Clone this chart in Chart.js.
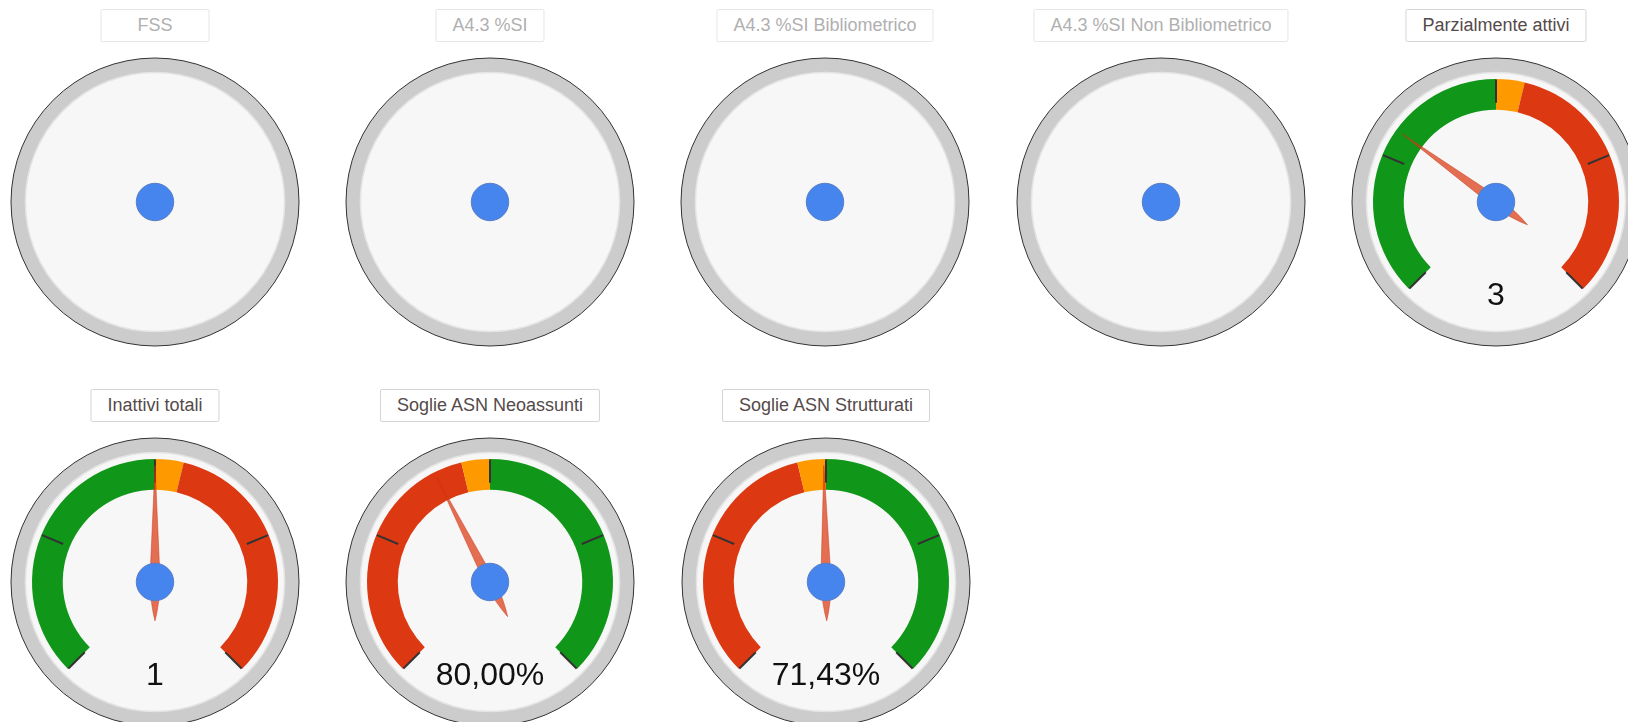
<!DOCTYPE html>
<html>
<head>
<meta charset="utf-8">
<script src="https://cdn.jsdelivr.net/npm/chart.js@4.4.1/dist/chart.umd.min.js"></script>
<style>
  html, body { margin: 0; padding: 0; background: #fff; overflow: hidden; }
  body { width: 1628px; height: 722px; position: relative; font-family: "Liberation Sans", Arial, sans-serif; }
  .gbox { position: absolute; width: 300px; height: 300px; }
  .gtitle {
    position: absolute; transform: translateX(-50%); height: 33px; line-height: 31px;
    box-sizing: border-box; min-width: 109px; padding: 0 16px; white-space: nowrap; text-align: center;
    font-size: 18px; color: #554a4a; background: #fff; border: 1px solid #d4d4d4; border-radius: 2px;
  }
  .gtitle.off { color: #b0b0b0; border-color: #e6e6e6; }
</style>
</head>
<body>
<script>
// gauge titles and readings
const titles = ['FSS', 'A4.3 %SI', 'A4.3 %SI Bibliometrico', 'A4.3 %SI Non Bibliometrico',
  'Parzialmente attivi', 'Inattivi totali', 'Soglie ASN Neoassunti', 'Soglie ASN Strutturati'];
const values = [null, null, null, null, 3, 1, 80, 71.43];
const valueLabels = ['', '', '', '', '3', '1', '80,00%', '71,43%'];
const scaleMin = [0, 0, 0, 0, 0, 0, 0, 0];
const scaleMax = [null, null, null, null, 10, 2, 200, 144];

// colour bands (same meaning as greenFrom/greenTo etc.)
const greenFrom = [null, null, null, null, 0, 0, 100, 72];
const greenTo = [null, null, null, null, 5, 1, 200, 144];
const yellowFrom = [null, null, null, null, 5, 1, 90, 64.8];
const yellowTo = [null, null, null, null, 5.5, 1.1, 100, 72];
const redFrom = [null, null, null, null, 5.5, 1.1, 0, 0];
const redTo = [null, null, null, null, 10, 2, 90, 64.8];
const majorTicks = 5;

// page placement of each gauge centre
const centerX = [155, 490, 825, 1161, 1496, 155, 490, 826];
const centerY = [202, 202, 202, 202, 202, 582, 582, 582];

const GREEN = '#109618', YELLOW = '#ff9900', RED = '#dc3912';

function buildSegments(i) {
  if (values[i] === null) return [];
  const bands = [
    { from: greenFrom[i], to: greenTo[i], color: GREEN },
    { from: yellowFrom[i], to: yellowTo[i], color: YELLOW },
    { from: redFrom[i], to: redTo[i], color: RED }
  ].sort((a, b) => a.from - b.from);
  const span = scaleMax[i] - scaleMin[i];
  const segs = bands.map(b => ({ size: b.to - b.from, color: b.color }));
  // bottom quarter of the dial stays empty (270 degree sweep)
  segs.push({ size: span / 3, color: 'rgba(0,0,0,0)' });
  return segs;
}

const gaugePlugin = {
  id: 'gauge',
  beforeDatasetsDraw(chart, args, opts) {
    const { ctx, chartArea } = chart;
    const cx = (chartArea.left + chartArea.right) / 2;
    const cy = (chartArea.top + chartArea.bottom) / 2;
    const R = Math.min(chartArea.width, chartArea.height) / 2 * 0.96;
    ctx.save();
    ctx.beginPath();
    ctx.arc(cx, cy, R, 0, Math.PI * 2);
    ctx.fillStyle = '#cccccc';
    ctx.fill();
    ctx.lineWidth = 1;
    ctx.strokeStyle = '#333';
    ctx.stroke();
    ctx.beginPath();
    ctx.arc(cx, cy, R * 0.9, 0, Math.PI * 2);
    ctx.fillStyle = '#f7f7f7';
    ctx.fill();
    ctx.lineWidth = 1.5;
    ctx.strokeStyle = '#e4e4e4';
    ctx.stroke();
    ctx.restore();
  },
  afterDatasetsDraw(chart, args, opts) {
    const i = opts.index;
    const { ctx, chartArea } = chart;
    const cx = (chartArea.left + chartArea.right) / 2;
    const cy = (chartArea.top + chartArea.bottom) / 2;
    const R = Math.min(chartArea.width, chartArea.height) / 2 * 0.96;
    const toRad = frac => (-135 + 270 * frac - 90) * Math.PI / 180;
    ctx.save();
    if (values[i] !== null) {
      // major ticks
      ctx.strokeStyle = '#333';
      ctx.lineWidth = 2;
      for (let k = 0; k < majorTicks; k++) {
        const a = toRad(k / (majorTicks - 1));
        ctx.beginPath();
        ctx.moveTo(cx + Math.cos(a) * R * 0.69, cy + Math.sin(a) * R * 0.69);
        ctx.lineTo(cx + Math.cos(a) * R * 0.85, cy + Math.sin(a) * R * 0.85);
        ctx.stroke();
      }
      // value label
      ctx.fillStyle = '#111';
      ctx.font = '32px "Liberation Sans", Arial, sans-serif';
      ctx.textAlign = 'center';
      ctx.textBaseline = 'middle';
      ctx.fillText(valueLabels[i], cx, cy + R * 0.655);
      // needle
      const frac = (values[i] - scaleMin[i]) / (scaleMax[i] - scaleMin[i]);
      const a = toRad(frac);
      const ux = Math.cos(a), uy = Math.sin(a);
      const px = -uy, py = ux;
      const w = R * 0.036;
      const tip = R * 0.81, tail = R * 0.27;
      ctx.beginPath();
      ctx.moveTo(cx + ux * tip, cy + uy * tip);
      ctx.lineTo(cx + px * w, cy + py * w);
      ctx.quadraticCurveTo(cx - ux * tail * 0.6 + px * w * 0.8, cy - uy * tail * 0.6 + py * w * 0.8,
        cx - ux * tail, cy - uy * tail);
      ctx.quadraticCurveTo(cx - ux * tail * 0.6 - px * w * 0.8, cy - uy * tail * 0.6 - py * w * 0.8,
        cx - px * w, cy - py * w);
      ctx.closePath();
      ctx.fillStyle = 'rgba(220,57,18,0.72)';
      ctx.fill();
      ctx.lineWidth = 0.6;
      ctx.strokeStyle = 'rgba(198,51,16,0.8)';
      ctx.stroke();
    }
    // centre dot
    ctx.beginPath();
    ctx.arc(cx, cy, R * 0.13, 0, Math.PI * 2);
    ctx.fillStyle = '#4684ee';
    ctx.fill();
    ctx.lineWidth = 1;
    ctx.strokeStyle = '#5a7fc4';
    ctx.stroke();
    ctx.restore();
  }
};

titles.forEach((title, i) => {
  const t = document.createElement('div');
  t.className = 'gtitle' + (values[i] === null ? ' off' : '');
  t.textContent = title;
  t.style.left = centerX[i] + 'px';
  t.style.top = (centerY[i] - 193) + 'px';
  document.body.appendChild(t);

  const box = document.createElement('div');
  box.className = 'gbox';
  box.style.left = (centerX[i] - 150) + 'px';
  box.style.top = (centerY[i] - 150) + 'px';
  const canvas = document.createElement('canvas');
  canvas.width = 300;
  canvas.height = 300;
  box.appendChild(canvas);
  document.body.appendChild(box);

  const segs = buildSegments(i);
  new Chart(canvas, {
    type: 'doughnut',
    data: {
      labels: segs.map((s, k) => 'band ' + k),
      datasets: [{
        data: segs.map(s => s.size),
        backgroundColor: segs.map(s => s.color),
        borderWidth: 0
      }]
    },
    options: {
      responsive: false,
      animation: false,
      events: [],
      rotation: -135,
      circumference: 360,
      radius: '82%',
      cutout: '75%',
      layout: { padding: 0 },
      plugins: {
        legend: { display: false },
        tooltip: { enabled: false },
        gauge: { index: i }
      }
    },
    plugins: [gaugePlugin]
  });
});
</script>
</body>
</html>
